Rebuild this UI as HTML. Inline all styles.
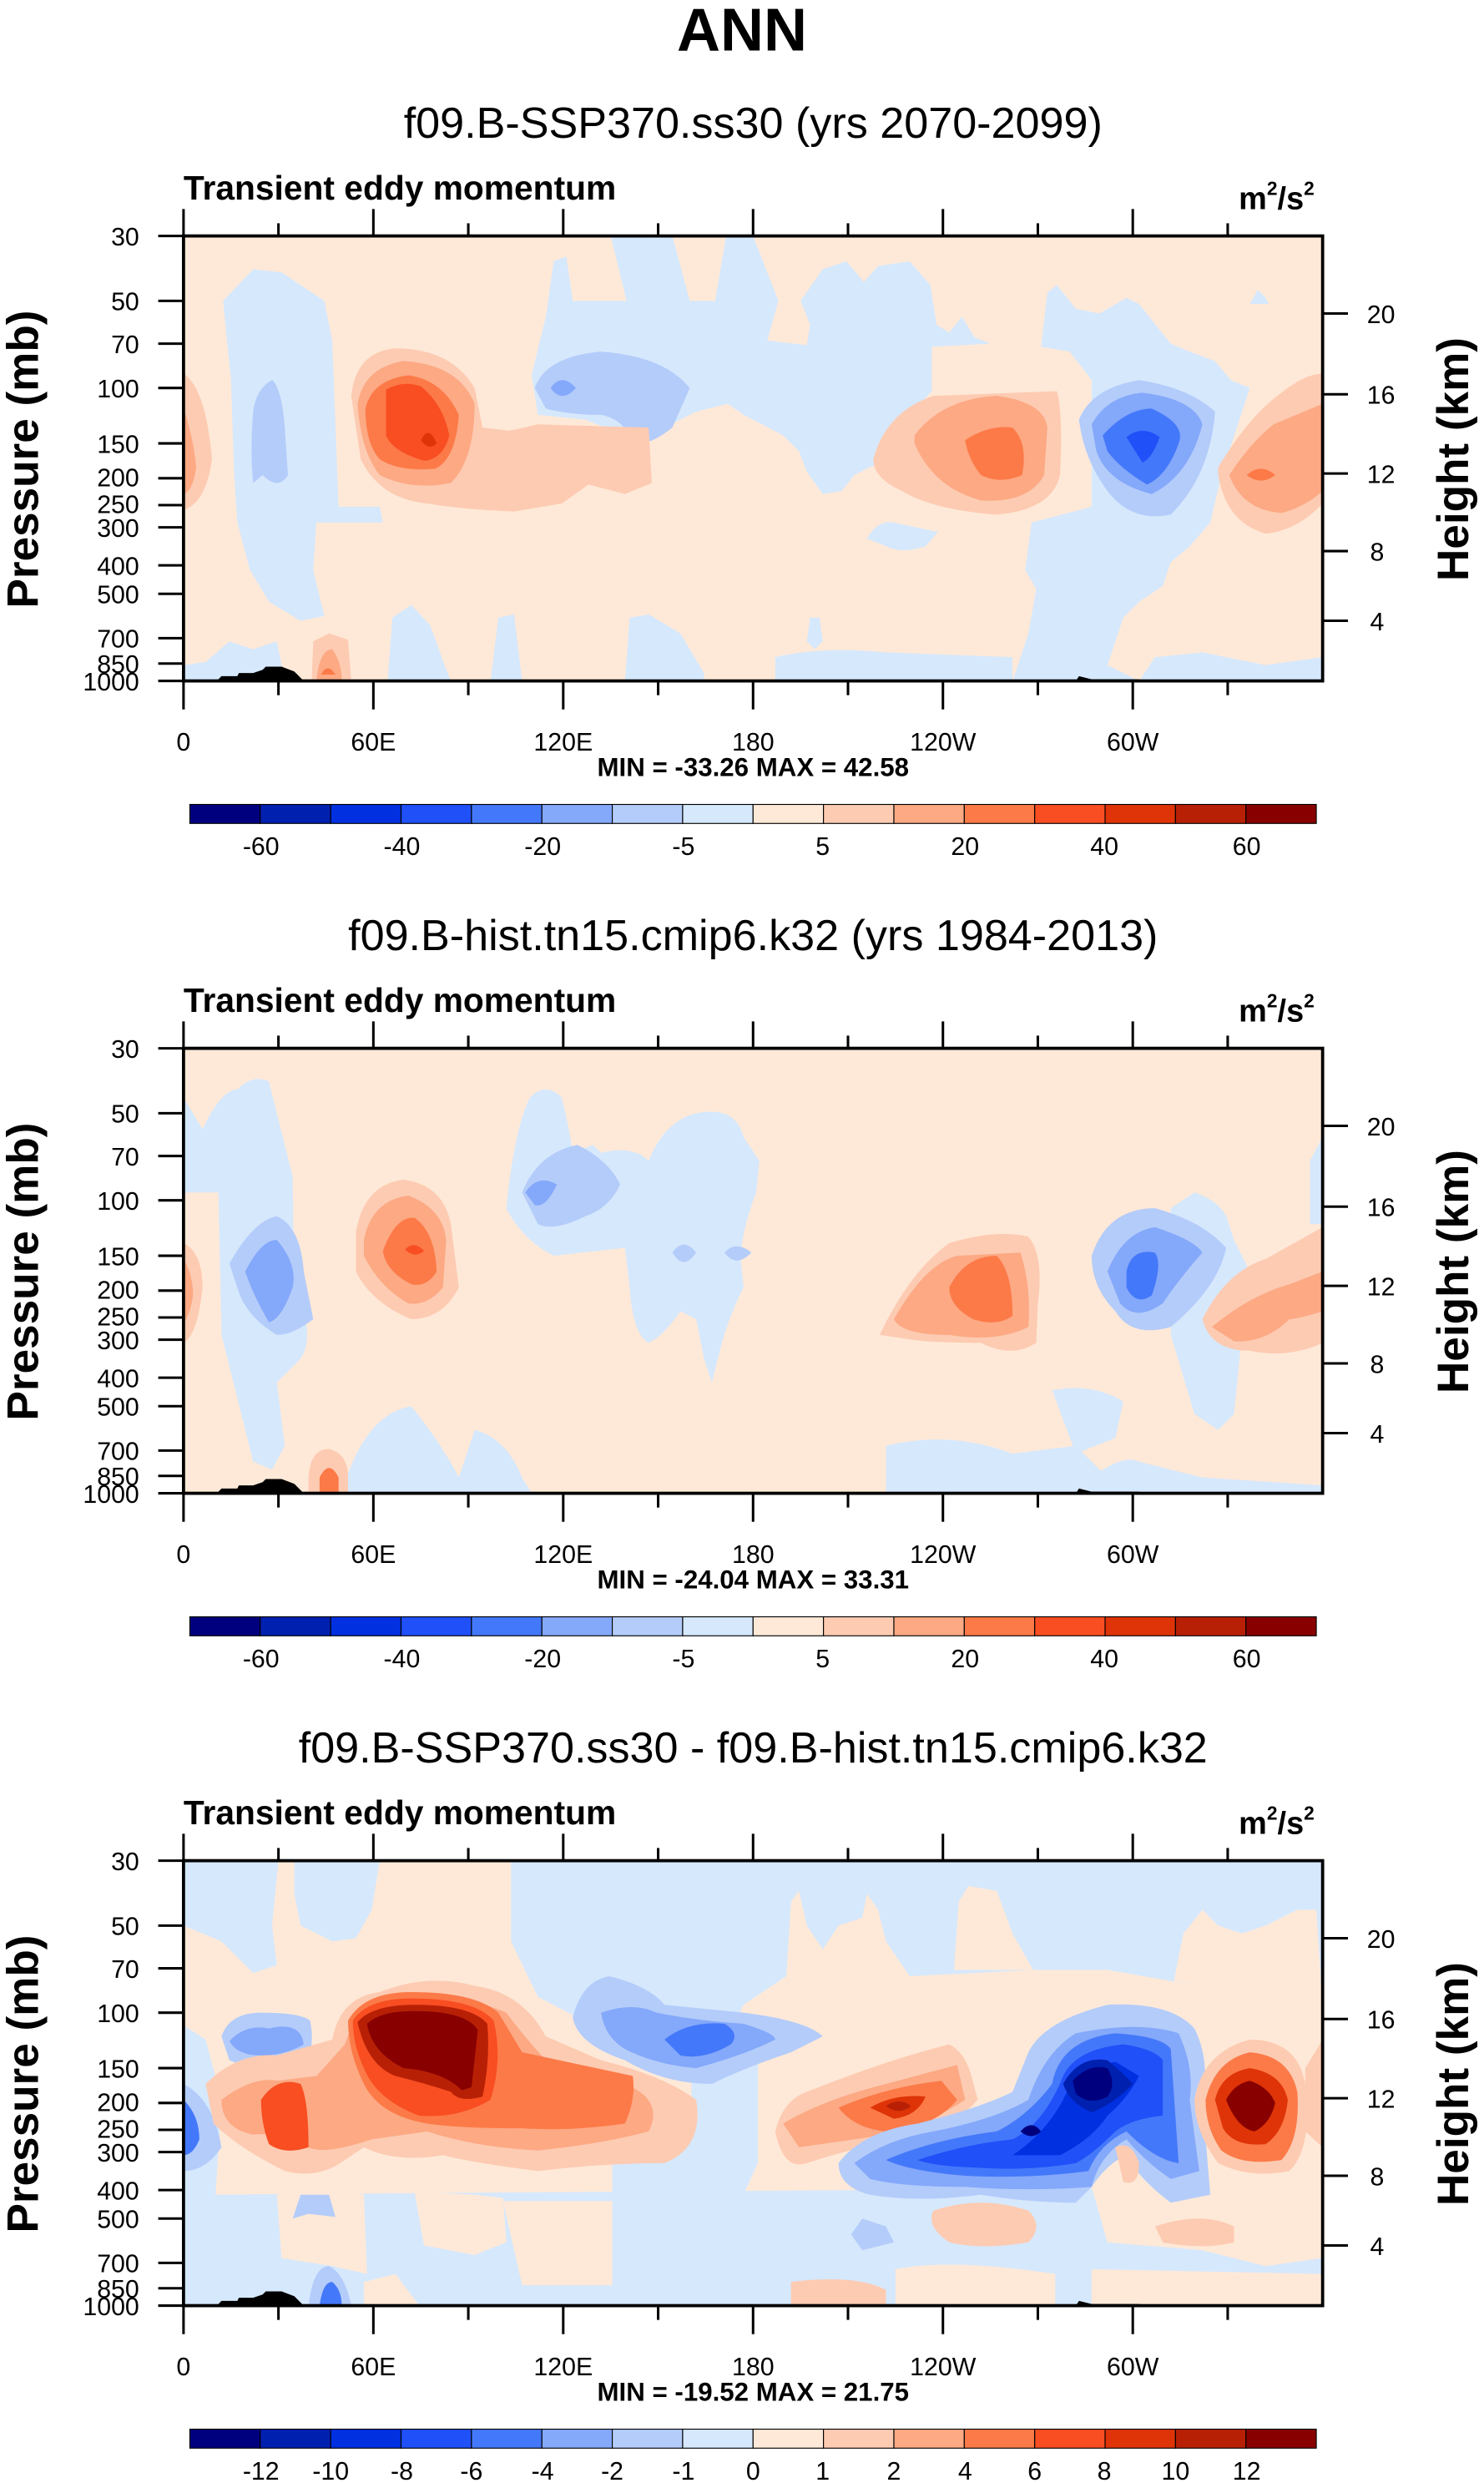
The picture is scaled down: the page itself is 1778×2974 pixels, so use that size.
<!DOCTYPE html>
<html><head><meta charset="utf-8"><style>
html,body{margin:0;padding:0;background:#fff;}
svg{display:block;}
text{font-family:"Liberation Sans",sans-serif;fill:#000;}
</style></head><body>
<svg width="1778" height="2974" viewBox="0 0 938 1568" preserveAspectRatio="none" xmlns="http://www.w3.org/2000/svg">
<defs>
<clipPath id="box"><rect x="116" y="149" width="720" height="281"/></clipPath>
<g id="axes">
  <rect x="116" y="149" width="720" height="281" fill="none" stroke="#000" stroke-width="2"/>
  <g stroke="#000" stroke-width="1.6">
    <line x1="116" y1="149" x2="116" y2="132"/><line x1="236" y1="149" x2="236" y2="132"/><line x1="356" y1="149" x2="356" y2="132"/><line x1="476" y1="149" x2="476" y2="132"/><line x1="596" y1="149" x2="596" y2="132"/><line x1="716" y1="149" x2="716" y2="132"/>
    <line x1="176" y1="149" x2="176" y2="141"/><line x1="296" y1="149" x2="296" y2="141"/><line x1="416" y1="149" x2="416" y2="141"/><line x1="536" y1="149" x2="536" y2="141"/><line x1="656" y1="149" x2="656" y2="141"/><line x1="776" y1="149" x2="776" y2="141"/>
    <line x1="116" y1="430" x2="116" y2="448"/><line x1="236" y1="430" x2="236" y2="448"/><line x1="356" y1="430" x2="356" y2="448"/><line x1="476" y1="430" x2="476" y2="448"/><line x1="596" y1="430" x2="596" y2="448"/><line x1="716" y1="430" x2="716" y2="448"/>
    <line x1="176" y1="430" x2="176" y2="439"/><line x1="296" y1="430" x2="296" y2="439"/><line x1="416" y1="430" x2="416" y2="439"/><line x1="536" y1="430" x2="536" y2="439"/><line x1="656" y1="430" x2="656" y2="439"/><line x1="776" y1="430" x2="776" y2="439"/>
    <line x1="100" y1="149" x2="116" y2="149"/><line x1="100" y1="190" x2="116" y2="190"/><line x1="100" y1="217" x2="116" y2="217"/><line x1="100" y1="245" x2="116" y2="245"/><line x1="100" y1="302" x2="116" y2="302"/><line x1="100" y1="280" x2="116" y2="280"/><line x1="100" y1="319" x2="116" y2="319"/><line x1="100" y1="333" x2="116" y2="333"/><line x1="100" y1="357" x2="116" y2="357"/><line x1="100" y1="375" x2="116" y2="375"/><line x1="100" y1="403" x2="116" y2="403"/><line x1="100" y1="419" x2="116" y2="419"/><line x1="100" y1="430" x2="116" y2="430"/>
    <line x1="836" y1="198" x2="852" y2="198"/><line x1="836" y1="249" x2="852" y2="249"/><line x1="836" y1="299" x2="852" y2="299"/><line x1="836" y1="348" x2="852" y2="348"/><line x1="836" y1="392" x2="852" y2="392"/>
  </g>
  <g font-size="16" text-anchor="end">
    <text x="88" y="155">30</text><text x="88" y="196">50</text><text x="88" y="223">70</text><text x="88" y="251">100</text><text x="88" y="286">150</text><text x="88" y="307">200</text><text x="88" y="324">250</text><text x="88" y="339">300</text><text x="88" y="363">400</text><text x="88" y="381">500</text><text x="88" y="409">700</text><text x="88" y="425">850</text><text x="88" y="436">1000</text>
  </g>
  <g font-size="16">
    <text x="864" y="204">20</text><text x="864" y="255">16</text><text x="864" y="305">12</text><text x="866" y="354">8</text><text x="866" y="398">4</text>
  </g>
  <g font-size="16" text-anchor="middle">
    <text x="116" y="474">0</text><text x="236" y="474">60E</text><text x="356" y="474">120E</text><text x="476" y="474">180</text><text x="596" y="474">120W</text><text x="716" y="474">60W</text>
  </g>
  <text x="116" y="126" font-size="21.5" font-weight="bold">Transient eddy momentum</text>
  <text x="783" y="132" font-size="20" font-weight="bold">m<tspan font-size="12" dy="-9">2</tspan><tspan dy="9">/s</tspan><tspan font-size="12" dy="-9">2</tspan></text>
  <text transform="translate(24,290) rotate(-90)" font-size="28" font-weight="bold" text-anchor="middle">Pressure (mb)</text>
  <text transform="translate(928,290) rotate(-90)" font-size="28" font-weight="bold" text-anchor="middle">Height (km)</text>
  <g stroke="#000" stroke-width="0.6">
    <rect x="120" y="508" width="44.5" height="12" fill="#00007f"/><rect x="164.5" y="508" width="44.5" height="12" fill="#0020b0"/><rect x="209" y="508" width="44.5" height="12" fill="#0030e0"/><rect x="253.5" y="508" width="44.5" height="12" fill="#2050f8"/><rect x="298" y="508" width="44.5" height="12" fill="#4478fa"/><rect x="342.5" y="508" width="44.5" height="12" fill="#84a8fa"/><rect x="387" y="508" width="44.5" height="12" fill="#b4ccfa"/><rect x="431.5" y="508" width="44.5" height="12" fill="#d6e8fc"/><rect x="476" y="508" width="44.5" height="12" fill="#fee9d8"/><rect x="520.5" y="508" width="44.5" height="12" fill="#fdcbb2"/><rect x="565" y="508" width="44.5" height="12" fill="#fca984"/><rect x="609.5" y="508" width="44.5" height="12" fill="#fc7a48"/><rect x="654" y="508" width="44.5" height="12" fill="#f84e22"/><rect x="698.5" y="508" width="44.5" height="12" fill="#de3408"/><rect x="743" y="508" width="44.5" height="12" fill="#b82006"/><rect x="787.5" y="508" width="44.5" height="12" fill="#880000"/>
  </g>
</g>
</defs>

<text x="469" y="32" font-size="38" font-weight="bold" text-anchor="middle">ANN</text>
<text x="476" y="87" font-size="27.5" text-anchor="middle">f09.B-SSP370.ss30 (yrs 2070-2099)</text>
<text x="476" y="600" font-size="27.5" text-anchor="middle">f09.B-hist.tn15.cmip6.k32 (yrs 1984-2013)</text>
<text x="476" y="1113" font-size="27.5" text-anchor="middle">f09.B-SSP370.ss30 - f09.B-hist.tn15.cmip6.k32</text>

<!-- PANEL 1 -->
<g clip-path="url(#box)">
  <rect x="116" y="149" width="720" height="281" fill="#fee9d8"/>
  <g fill="#d6e8fc">
    <path d="M141 190 L160 170 L178 172 L205 190 L210 215 L214 320 L240 320 L242 330 L200 330 L198 360 L205 389 L190 392 L170 380 L158 360 L150 330 L148 300 L146 240 Z"/>
    <path d="M336 237 L345 200 L350 165 L358 162 L362 190 L396 190 L386 149 L425 149 L436 190 L452 190 L459 149 L476 149 L492 190 L485 215 L510 218 L512 205 L506 190 L520 170 L535 165 L546 178 L555 168 L575 165 L588 180 L592 205 L600 210 L608 200 L616 213 L626 217 L589 219 L589 247 L575 262 L565 290 L550 295 L540 300 L532 310 L520 312 L510 298 L505 285 L495 275 L470 262 L460 255 L440 260 L420 270 L395 275 L370 265 L340 262 Z"/>
    <path d="M658 219 L662 185 L668 180 L680 195 L695 198 L712 188 L720 192 L740 217 L752 222 L768 228 L778 240 L790 245 L772 300 L765 330 L752 345 L740 355 L735 370 L720 380 L710 390 L700 420 L720 430 L640 430 L650 400 L655 372 L648 360 L652 330 L690 320 L690 240 L676 222 Z"/>
    <path d="M548 340 Q555 328 565 330 L593 336 L585 345 Q570 350 560 345 Z"/>
    <path d="M790 192 L795 183 L800 188 L802 192 Z"/>
    <path d="M490 415 Q520 408 560 412 L640 415 L640 430 L490 430 Z"/>
    <path d="M245 430 L248 390 L260 382 L272 395 L281 420 L285 430 Z"/>
    <path d="M310 430 L315 390 L325 388 L330 430 Z"/>
    <path d="M395 430 L398 390 L410 388 L430 400 L445 425 L445 430 Z"/>
    <path d="M510 405 L512 390 L518 390 L520 405 L515 410 Z"/>
    <path d="M116 420 L130 418 L145 405 L160 410 L175 405 L180 430 L116 430 Z"/>
    <path d="M720 430 L730 415 L760 412 L800 420 L836 415 L836 430 Z"/>
  </g>
  <g fill="#b4ccfa">
    <path d="M160 260 Q162 245 172 240 Q178 245 180 270 L182 300 Q176 310 166 300 L160 305 Q158 285 160 260 Z"/>
    <path d="M338 245 Q345 225 380 222 Q420 225 436 245 L425 270 Q410 282 400 280 Q395 265 380 262 Q360 262 345 258 Z"/>
    <path d="M682 265 Q690 245 720 240 Q752 245 768 260 Q765 300 740 325 Q715 330 700 310 Q685 290 682 265 Z"/>
  </g>
  <path d="M348 245 Q355 235 364 245 Q355 255 348 245 Z" fill="#84a8fa"/>
  <path d="M690 268 Q700 250 722 248 Q755 252 760 268 Q752 300 728 312 Q700 305 693 285 Z" fill="#84a8fa"/>
  <path d="M697 275 Q712 258 728 258 Q750 268 745 280 Q738 300 725 306 Q708 296 700 285 Z" fill="#4478fa"/>
  <path d="M712 276 Q722 268 733 276 Q728 290 722 292 Z" fill="#2050f8"/>
  <!-- red blob 1 -->
  <path d="M222 250 Q225 222 250 220 Q285 220 300 245 L305 270 L322 272 L340 268 L410 270 L412 305 L395 312 L372 306 L355 318 L325 323 Q295 322 270 318 Q240 315 228 290 Z" fill="#fdcbb2"/>
  <path d="M226 255 Q230 232 255 228 Q290 230 300 255 Q300 290 285 305 Q260 310 240 300 Q228 285 226 255 Z" fill="#fca984"/>
  <path d="M231 258 Q235 240 258 237 Q280 240 290 262 Q288 290 275 296 Q252 298 240 290 Q231 280 231 258 Z" fill="#fc7a48"/>
  <path d="M244 246 Q255 240 266 244 Q280 255 284 275 Q280 290 268 291 Q248 285 244 275 Z" fill="#f84e22"/>
  <path d="M266 278 Q271 268 276 280 Q271 285 266 278 Z" fill="#de3408"/>
  <!-- red blob 2 -->
  <path d="M552 290 Q560 260 590 250 L668 247 Q672 260 670 300 Q665 322 630 325 Q590 322 570 310 Q552 302 552 290 Z" fill="#fdcbb2"/>
  <path d="M578 275 Q595 252 630 250 Q660 254 662 270 L660 300 Q650 318 620 316 Q590 308 578 280 Z" fill="#fca984"/>
  <path d="M610 278 Q625 268 640 270 Q650 280 646 300 Q632 306 620 300 Q612 290 610 278 Z" fill="#fc7a48"/>
  <!-- red right -->
  <path d="M770 295 Q790 262 810 248 Q825 236 836 236 L836 318 Q820 335 800 337 Q775 330 770 300 Z" fill="#fdcbb2"/>
  <path d="M777 300 Q790 280 805 268 L836 255 L836 310 Q825 320 810 324 Q785 322 777 300 Z" fill="#fca984"/>
  <path d="M788 300 Q797 292 806 300 Q797 307 788 300 Z" fill="#fc7a48"/>
  <path d="M116 236 Q130 245 134 290 Q130 318 116 322 Z" fill="#fdcbb2"/>
  <path d="M116 258 Q122 275 124 295 Q122 310 116 312 Z" fill="#fca984"/>
  <!-- bottom red -->
  <path d="M197 430 L198 405 L208 400 L220 404 L222 430 Z" fill="#fdcbb2"/>
  <path d="M200 430 Q202 410 210 410 Q216 418 216 430 Z" fill="#fca984"/>
  <path d="M203 426 Q207 418 212 426 Z" fill="#fc7a48"/>
  <path d="M137 430 L140 427 L150 427 L151 425 L160 425 L166 423 L168 421 L178 421 L186 424 L192 430 Z" fill="#000"/>
  <path d="M680 430 L682 427 L686 428 L690 429 L720 429 L722 430 Z" fill="#000"/>
</g>
<use href="#axes"/>
<text x="476" y="490" font-size="16.5" font-weight="bold" text-anchor="middle">MIN = -33.26  MAX =  42.58</text>
<g font-size="16" text-anchor="middle"><text x="165" y="540">-60</text><text x="254" y="540">-40</text><text x="343" y="540">-20</text><text x="432" y="540">-5</text><text x="520" y="540">5</text><text x="610" y="540">20</text><text x="698" y="540">40</text><text x="788" y="540">60</text></g>

<!-- PANEL 2 -->
<g transform="translate(0,513)">
<g clip-path="url(#box)">
  <rect x="116" y="149" width="720" height="281" fill="#fee9d8"/>
  <g fill="#d6e8fc">
    <path d="M116 180 L128 200 Q140 175 150 175 Q160 165 170 170 L185 230 L186 300 Q200 330 190 345 L175 360 L180 400 L172 415 L160 410 Q150 370 140 330 L138 240 L116 240 Z"/>
    <path d="M320 250 Q325 200 335 180 Q345 170 355 180 Q360 200 362 215 L375 210 L380 215 Q400 210 410 220 Q420 195 440 190 Q465 185 470 205 L480 220 L478 240 Q470 260 468 280 L470 300 Q460 320 455 340 L450 360 L445 345 L440 320 L430 315 Q420 330 410 335 Q400 330 398 300 L395 275 L350 280 Q330 270 320 250 Z"/>
    <path d="M740 250 L755 240 Q770 245 775 255 L780 270 L790 290 L786 320 L780 380 L770 390 L755 380 L740 330 Z"/>
    <path d="M828 220 L836 205 L836 260 L828 260 Z"/>
    <path d="M560 400 Q600 390 640 405 L680 400 L700 420 L700 430 L560 430 Z"/>
    <path d="M216 430 Q230 380 260 375 Q280 400 290 420 L300 390 Q320 395 330 420 L336 430 Z"/>
    <path d="M665 365 Q690 360 710 372 L705 395 L680 405 Z"/>
    <path d="M690 420 Q710 405 720 410 L760 420 L836 425 L836 430 L690 430 Z"/>
  </g>
  <g fill="#b4ccfa">
    <path d="M145 285 Q160 258 175 255 Q190 262 192 290 L198 320 Q185 330 175 330 Q155 318 150 300 Z"/>
    <path d="M330 240 Q340 215 365 210 Q385 220 392 235 Q385 250 370 255 Q350 265 340 260 Z"/>
    <path d="M425 278 Q432 268 440 278 Q432 290 425 278 Z"/>
    <path d="M458 278 Q465 270 475 278 Q465 288 458 278 Z"/>
    <path d="M690 280 Q700 250 730 250 Q760 258 775 275 Q770 300 740 325 Q715 332 705 315 Q690 300 690 280 Z"/>
  </g>
  <path d="M155 290 Q165 270 175 270 Q188 285 185 300 Q178 320 170 322 Q160 305 155 290 Z" fill="#84a8fa"/>
  <path d="M332 240 Q340 228 352 235 Q345 250 338 248 Z" fill="#84a8fa"/>
  <path d="M700 290 Q710 265 730 262 Q755 270 760 278 Q745 295 735 310 Q718 322 708 310 Z" fill="#84a8fa"/>
  <path d="M712 290 Q715 275 730 278 Q735 285 728 305 Q718 312 712 300 Z" fill="#4478fa"/>
  <path d="M225 265 Q230 235 255 232 Q280 235 285 260 L290 300 Q280 320 260 320 Q235 310 225 290 Z" fill="#fdcbb2"/>
  <path d="M230 270 Q235 245 258 242 Q280 250 282 270 L280 300 Q270 312 258 310 Q240 300 230 280 Z" fill="#fca984"/>
  <path d="M242 277 Q250 255 262 256 Q275 265 276 290 Q270 300 260 298 Q244 290 242 277 Z" fill="#fc7a48"/>
  <path d="M256 276 Q262 270 268 277 Q262 282 256 276 Z" fill="#f84e22"/>
  <path d="M556 330 Q575 290 600 272 Q630 263 650 268 Q660 280 656 310 L655 335 Q640 345 620 335 Q585 335 570 332 Z" fill="#fdcbb2"/>
  <path d="M565 320 Q585 285 605 280 L645 278 Q652 300 650 325 Q630 335 600 330 Q570 330 565 320 Z" fill="#fca984"/>
  <path d="M600 300 Q610 280 630 280 Q640 290 640 318 Q630 325 615 320 Q600 312 600 300 Z" fill="#fc7a48"/>
  <path d="M760 320 Q775 290 800 282 L836 262 L836 335 Q815 345 790 340 Q765 340 760 320 Z" fill="#fdcbb2"/>
  <path d="M766 325 Q790 305 815 298 L836 290 L836 315 Q820 320 815 320 Q800 335 780 334 Z" fill="#fca984"/>
  <path d="M116 272 Q128 278 128 300 Q125 330 116 335 Z" fill="#fdcbb2"/>
  <path d="M116 282 Q122 292 122 305 Q120 318 116 322 Z" fill="#fca984"/>
  <path d="M195 420 Q196 402 208 402 Q220 405 220 420 L220 430 L195 430 Z" fill="#fdcbb2"/>
  <path d="M202 420 Q208 408 214 420 L214 430 L202 430 Z" fill="#fc7a48"/>
  <path d="M137 430 L140 427 L150 427 L151 425 L160 425 L166 423 L168 421 L178 421 L186 424 L192 430 Z" fill="#000"/>
  <path d="M680 430 L682 427 L686 428 L690 429 L720 429 L722 430 Z" fill="#000"/>
</g>
<use href="#axes"/>
<text x="476" y="490" font-size="16.5" font-weight="bold" text-anchor="middle">MIN = -24.04  MAX =  33.31</text>
<g font-size="16" text-anchor="middle"><text x="165" y="540">-60</text><text x="254" y="540">-40</text><text x="343" y="540">-20</text><text x="432" y="540">-5</text><text x="520" y="540">5</text><text x="610" y="540">20</text><text x="698" y="540">40</text><text x="788" y="540">60</text></g>
</g>

<!-- PANEL 3 -->
<g transform="translate(0,1026)">
<g clip-path="url(#box)">
  <rect x="116" y="149" width="720" height="281" fill="#fee9d8"/>
  <g fill="#d6e8fc">
    <path d="M116 149 L176 149 L172 190 L175 215 L160 220 L140 200 L116 190 Z"/>
    <path d="M186 149 L240 149 L235 180 L225 198 L210 200 L190 190 L186 170 Z"/>
    <path d="M323 149 L836 149 L836 238 L740 225 L700 218 L653 218 L575 222 L497 222 L470 240 L460 262 L392 262 L340 235 L323 200 Z"/>
    <path d="M116 253 L130 262 L140 300 L135 380 L116 380 Z"/>
    <path d="M116 360 L836 355 L836 430 L116 430 Z"/>
    <path d="M387 310 L437 300 L437 265 L479 265 L479 340 L470 360 L387 360 Z"/>
  </g>
  <g fill="#fee9d8">
    <path d="M497 222 L500 175 L505 168 L510 190 L520 205 L530 190 L545 185 L548 170 L555 180 L560 200 L575 222 Z"/>
    <path d="M603 218 L606 175 L612 165 L630 168 L640 195 L653 218 Z"/>
    <path d="M742 225 L748 195 L760 180 L770 190 L785 195 L800 190 L820 180 L832 180 L836 240 Z"/>
    <path d="M175 360 L200 352 L230 360 L232 410 L210 405 L178 400 Z"/>
    <path d="M262 358 L300 360 L318 362 L320 390 L300 398 L268 392 Z"/>
    <path d="M318 364 L387 364 L387 417 L330 417 Z"/>
    <path d="M690 355 L836 355 L836 400 L800 405 L760 395 L700 390 Z"/>
    <path d="M566 407 Q600 400 667 410 L667 430 L566 430 Z"/>
    <path d="M690 407 L836 410 L836 430 L690 430 Z"/>
    <path d="M230 415 L250 410 L265 430 L230 430 Z"/>
  </g>
  <!-- left blues -->
  <path d="M140 260 Q145 245 165 245 Q190 245 196 250 Q200 270 190 280 Q160 282 145 275 Z" fill="#b4ccfa"/>
  <path d="M145 263 Q155 252 170 255 Q190 250 192 265 Q180 272 165 272 Q150 272 145 263 Z" fill="#84a8fa"/>
  <path d="M116 290 Q135 300 140 330 Q130 345 116 345 Z" fill="#b4ccfa"/>
  <path d="M116 300 Q126 310 126 325 Q122 335 116 335 Z" fill="#4478fa"/>
  <path d="M185 375 L195 372 L212 374 L208 360 L190 360 Z" fill="#b4ccfa"/>
  <path d="M195 430 Q198 405 208 405 Q218 410 222 430 Z" fill="#b4ccfa"/>
  <path d="M202 430 Q204 415 210 415 Q216 420 216 430 Z" fill="#4478fa"/>
  <path d="M538 385 L545 375 L560 380 L565 390 L545 395 Z" fill="#b4ccfa"/>
  <!-- blue band upper middle -->
  <path d="M362 248 Q368 225 385 222 Q410 228 420 240 L470 245 Q510 250 520 260 L500 270 Q470 280 450 290 Q420 290 395 275 Q365 265 362 248 Z" fill="#b4ccfa"/>
  <path d="M380 245 Q400 238 415 245 Q440 250 470 252 Q490 258 490 262 Q470 272 440 280 Q415 278 395 268 Q382 260 380 245 Z" fill="#84a8fa"/>
  <path d="M420 262 Q435 250 458 252 Q468 258 462 265 Q445 275 430 272 Z" fill="#4478fa"/>
  <!-- big red left -->
  <path d="M130 290 Q150 270 175 272 L210 262 Q215 235 240 232 Q270 220 300 228 Q330 232 345 260 L380 275 Q420 285 440 300 Q445 330 420 340 Q380 340 340 345 Q300 340 280 335 Q250 340 230 330 L215 340 Q200 350 180 345 Q150 330 135 315 Z" fill="#fdcbb2"/>
  <path d="M140 300 Q160 285 175 288 L200 285 L218 265 Q225 240 255 235 Q290 232 320 245 Q335 265 350 280 L395 290 Q420 300 410 320 Q380 328 340 332 Q300 330 270 320 L235 325 Q205 335 195 330 Q180 320 160 322 Q140 318 140 300 Z" fill="#fca984"/>
  <path d="M165 300 Q175 285 190 290 Q195 300 195 330 Q180 335 170 328 Q165 315 165 300 Z" fill="#f84e22"/>
  <path d="M220 250 Q230 232 260 232 Q300 232 315 245 L330 270 L400 285 Q402 300 395 315 Q360 320 330 318 Q290 318 270 315 Q240 310 230 290 Q220 270 220 250 Z" fill="#fc7a48"/>
  <path d="M223 250 Q232 236 260 236 Q300 236 312 250 Q318 275 310 300 Q290 312 265 310 Q238 300 230 280 Q223 265 223 250 Z" fill="#f84e22"/>
  <path d="M226 251 Q235 240 262 240 Q298 240 308 252 Q310 275 305 298 Q290 302 285 295 Q270 290 250 285 Q232 278 226 251 Z" fill="#b82006"/>
  <path d="M232 252 Q240 244 262 244 Q295 244 302 256 Q300 275 298 292 L292 294 Q280 282 255 280 Q235 270 232 252 Z" fill="#880000"/>
  <!-- middle-right red -->
  <path d="M490 320 Q495 300 510 295 Q560 275 600 265 Q610 270 614 285 L618 300 Q600 320 570 325 Q540 330 510 340 Q495 345 490 320 Z" fill="#fdcbb2"/>
  <path d="M495 315 Q520 300 560 290 Q590 282 605 278 L610 300 Q580 320 540 325 L505 330 Z" fill="#fca984"/>
  <path d="M530 305 Q560 292 595 288 L605 300 Q590 318 560 320 Q540 318 530 305 Z" fill="#fc7a48"/>
  <path d="M550 305 Q565 296 585 298 Q580 310 565 312 Z" fill="#de3408"/>
  <path d="M560 304 Q568 298 576 304 Q568 310 560 304 Z" fill="#b82006"/>
  <!-- diagonal blue -->
  <path d="M530 340 Q545 320 580 315 Q620 305 640 295 L650 270 Q660 250 700 240 Q740 238 755 255 Q765 275 760 300 L765 360 L740 365 Q720 350 712 335 Q700 340 690 355 L680 365 Q650 365 620 360 Q580 365 550 360 Q530 355 530 340 Z" fill="#b4ccfa"/>
  <path d="M540 340 Q560 325 590 320 Q630 312 650 300 Q660 270 680 258 Q720 250 745 258 Q755 280 752 300 L758 345 L740 350 Q725 340 712 325 Q695 335 690 355 Q650 358 610 355 Q570 355 550 350 Z" fill="#84a8fa"/>
  <path d="M560 338 Q590 325 630 320 Q650 310 665 290 Q670 262 705 258 Q735 260 740 268 L745 340 Q730 338 712 320 Q695 328 688 345 Q650 350 610 348 Q575 345 560 338 Z" fill="#4478fa"/>
  <path d="M580 338 Q610 328 640 325 Q660 315 672 285 Q680 268 710 265 Q730 268 735 275 L735 310 Q715 312 705 320 Q690 335 680 340 Q650 345 620 343 Q590 342 580 338 Z" fill="#2050f8"/>
  <path d="M640 335 Q660 322 672 300 Q680 280 705 276 L720 285 Q712 300 700 310 Q690 325 670 335 Z" fill="#0030e0"/>
  <path d="M672 290 Q682 272 700 275 Q712 285 716 290 Q705 302 690 308 Q676 302 672 290 Z" fill="#0020b0"/>
  <path d="M678 288 Q688 277 700 280 Q706 290 700 298 Q688 304 680 296 Z" fill="#00007f"/>
  <path d="M645 320 Q652 312 658 320 Q652 326 645 320 Z" fill="#00007f"/>
  <!-- right red -->
  <path d="M755 300 Q760 270 790 262 Q820 262 825 290 Q830 330 815 345 Q790 350 770 340 Q755 320 755 300 Z" fill="#fdcbb2"/>
  <path d="M762 300 Q768 275 790 270 Q815 272 820 295 Q822 325 810 338 Q785 342 772 332 Q762 318 762 300 Z" fill="#fc7a48"/>
  <path d="M768 300 Q772 283 790 280 Q810 283 814 300 Q812 320 800 328 Q780 330 773 318 Z" fill="#de3408"/>
  <path d="M775 300 Q780 290 790 288 Q802 292 806 302 Q803 315 793 320 Q782 318 775 300 Z" fill="#880000"/>
  <path d="M825 280 L836 262 L836 330 L825 320 Z" fill="#fdcbb2"/>
  <!-- lower pinks -->
  <path d="M590 370 Q620 360 650 370 Q660 380 650 390 Q620 395 600 390 Q585 380 590 370 Z" fill="#fdcbb2"/>
  <path d="M705 330 Q715 325 720 340 Q720 355 710 352 Z" fill="#fdcbb2"/>
  <path d="M730 380 Q760 370 780 380 L780 390 Q760 395 735 390 Z" fill="#fdcbb2"/>
  <path d="M500 415 Q540 410 560 420 L560 430 L500 430 Z" fill="#fdcbb2"/>
  <path d="M137 430 L140 427 L150 427 L151 425 L160 425 L166 423 L168 421 L178 421 L186 424 L192 430 Z" fill="#000"/>
  <path d="M680 430 L682 427 L686 428 L690 429 L720 429 L722 430 Z" fill="#000"/>
</g>
<use href="#axes"/>
<text x="476" y="490" font-size="16.5" font-weight="bold" text-anchor="middle">MIN = -19.52  MAX =  21.75</text>
<g font-size="16" text-anchor="middle"><text x="165" y="540">-12</text><text x="209" y="540">-10</text><text x="254" y="540">-8</text><text x="298" y="540">-6</text><text x="343" y="540">-4</text><text x="387" y="540">-2</text><text x="432" y="540">-1</text><text x="476" y="540">0</text><text x="520" y="540">1</text><text x="565" y="540">2</text><text x="610" y="540">4</text><text x="654" y="540">6</text><text x="698" y="540">8</text><text x="743" y="540">10</text><text x="788" y="540">12</text></g>
</g>
</svg>
</body></html>
